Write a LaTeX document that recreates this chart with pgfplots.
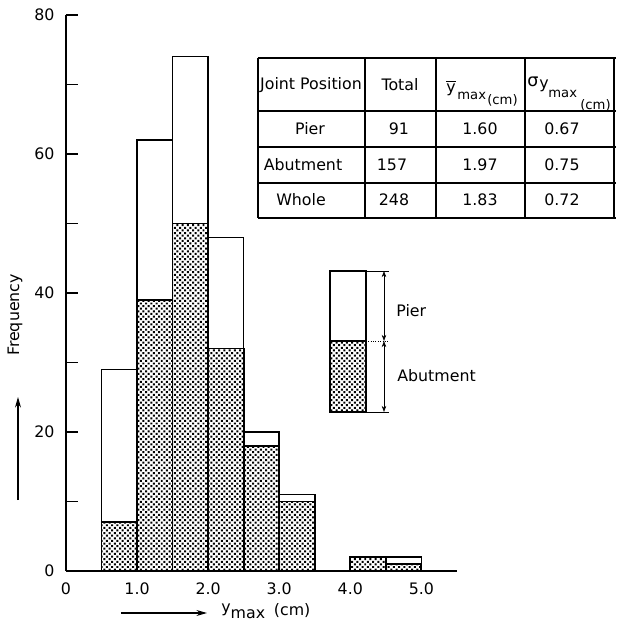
\documentclass[border=0pt]{standalone}
\usepackage{fontspec}
\setmainfont{DejaVu Sans}
\usepackage{pgfplots}
\pgfplotsset{compat=1.18}
\usetikzlibrary{patterns.meta,arrows.meta}

\newcommand\sub{\fontsize{7.5}{9}\selectfont}
\tikzset{
  abut/.style={pattern={Dots[angle=45,distance=2.1pt,radius=0.8pt]}},
  px/.style={shift={(-1.32cm,11.42cm)},x=0.02cm,y=-0.02cm},
  harr/.style={{Stealth[length=3.5pt,width=2.6pt]}-{Stealth[length=3.5pt,width=2.6pt]},line width=0.35pt}
}

\begin{document}
\begin{tikzpicture}[font=\fontsize{9}{11}\selectfont]
\begin{scope}[px]
\path[use as bounding box] (0,0) rectangle (610,627);
\end{scope}

\begin{axis}[scale only axis,width=7.82cm,height=11.12cm,
  xmin=0,xmax=5.5,ymin=0,ymax=80,
  axis lines=left,axis line style={-,line width=1pt},
  ybar stacked,bar width=0.5,
  xtick={0,1,2,3,4,5},xticklabels={0,1.0,2.0,3.0,4.0,5.0},
  ytick={0,20,40,60,80},yticklabels={0,20,40,60,80},
  minor ytick={10,30,50,70},
  tick align=inside,major tick length=0.24cm,minor tick length=0.24cm,
  x tick style={draw=none},
  y tick style={line width=0.7pt,black},
  ticklabel style={font=\fontsize{9}{11}\selectfont},
  xticklabel style={yshift=-3pt},yticklabel style={xshift=-3pt},
  clip=false]
% abutment (bottom, dotted)
\addplot[draw=black,line width=1pt,abut] coordinates {
(0.75,7) (1.25,39) (1.75,50) (2.25,32) (2.75,18) (3.25,10) (4.25,2) (4.75,1)};
% pier (top, white)
\addplot[draw=black,line width=0.9pt,fill=white] coordinates {
(0.75,22) (1.25,23) (1.75,24) (2.25,16) (2.75,2) (3.25,1) (4.25,0) (4.75,1)};
\end{axis}

\begin{scope}[px]
% axis labels
\node[rotate=90] at (15,315) {Frequency};
\draw[-{Stealth[length=6pt,width=3.4pt]},line width=0.6pt] (18,500) -- (18,397);
\draw[-{Stealth[length=6pt,width=3.4pt]},line width=0.6pt] (121,613) -- (207,613);
\node[anchor=base west,inner sep=0pt] at (221,613) {y\raisebox{-3pt}{max}\hspace{5pt}\raisebox{-1.5pt}{(cm)}};

% table
\foreach \yy in {58,111,147,183,218} \draw[line width=0.6pt] (258,\yy) -- (616,\yy);
\foreach \xx in {258,365,436,525,614} \draw[line width=0.6pt] (\xx,58) -- (\xx,218);
\node at (311,85) {Joint Position};
\node at (400,85) {Total};
\node[anchor=base west,inner sep=0pt] at (446,92) {$\overline{\mbox{y}}$};
\node[anchor=base west,inner sep=0pt] at (457,99) {\sub max};
\node[anchor=base west,inner sep=0pt] at (487,105) {\sub (cm)};
\node[anchor=base west,inner sep=0pt] at (527,86) {\fontsize{10}{12}\selectfont σ};
\node[anchor=base west,inner sep=0pt] at (539,88) {y};
\node[anchor=base west,inner sep=0pt] at (548,97) {\sub max};
\node[anchor=base west,inner sep=0pt] at (580,109) {\sub (cm)};
\node at (310,129) {Pier};
\node at (303,165) {Abutment};
\node at (301,200) {Whole};
\node at (399,129) {91};
\node at (392,165) {157};
\node at (394,200) {248};
\node at (480,129) {1.60};
\node at (480,165) {1.97};
\node at (480,200) {1.83};
\node at (562,129) {0.67};
\node at (562,165) {0.75};
\node at (562,200) {0.72};

% key
\draw[line width=0.9pt,fill=white] (330,271) rectangle (366,341);
\draw[line width=0.9pt,abut] (330,341) rectangle (366,412);
\draw[line width=0.35pt] (366,271) -- (389,271);
\draw[line width=0.35pt,densely dotted] (366,341) -- (389,341);
\draw[line width=0.35pt] (366,412) -- (389,412);
\draw[harr] (384,271) -- (384,341);
\draw[harr] (384,341) -- (384,412);
\node[anchor=west,inner sep=0pt] at (396,311) {Pier};
\node[anchor=west,inner sep=0pt] at (397,376) {Abutment};
\end{scope}
\end{tikzpicture}
\end{document}
